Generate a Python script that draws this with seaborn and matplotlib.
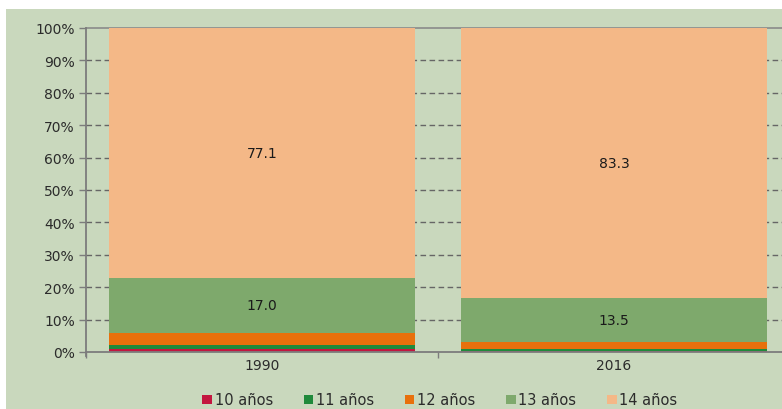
import matplotlib
matplotlib.use("Agg")
import matplotlib.pyplot as plt
from matplotlib.patches import Rectangle, Patch
import seaborn as sns
import pandas as pd
import numpy as np

# Percentage of mothers by age at first birth, 1990 vs 2016
years = ["1990", "2016"]
age_groups = ["10 años", "11 años", "12 años", "13 años", "14 años"]
share_1990 = [1.0, 1.1, 3.8, 17.0, 77.1]
share_2016 = [0.4, 0.6, 2.2, 13.5, 83.3]
colors = ["#c3163f", "#1f8a3b", "#e8700c", "#7ea96c", "#f4b887"]
labelled = {"13 años", "14 años"}
yticks = list(range(0, 101, 10))

sns.set_theme(style="white")
plt.rcParams["font.family"] = ["DejaVu Sans"]

df = pd.DataFrame({"year": np.repeat(years, len(age_groups)),
                   "group": age_groups * len(years),
                   "share": share_1990 + share_2016})
df["top"] = df.groupby("year")["share"].cumsum()
df["bottom"] = df["top"] - df["share"]

fig = plt.figure(figsize=(7.82, 4.10), dpi=100)
fig.patch.set_facecolor("white")
fig.patches.append(Rectangle((6 / 782, 0), 1, 400 / 410, transform=fig.transFigure,
                             facecolor="#c9d8bd", edgecolor="none", zorder=-10))

ax = fig.add_axes([86 / 782, 57 / 410, 704 / 782, 324 / 410])
ax.set_zorder(1)
ax.set_facecolor("none")

# dashed reference lines behind the bars
for t in yticks[1:-1]:
    ax.axhline(t, color="#666666", lw=1.0, ls=(0, (4, 2.5)), zorder=0)
ax.axhline(100, color="#8a8a8a", lw=1.2, zorder=0, clip_on=False)

# stacked bars drawn as overlapping cumulative totals, tallest first
for g, c in reversed(list(zip(age_groups, colors))):
    sub = df[df["group"] == g]
    sns.barplot(data=sub, x="year", y="top", order=years, color=c, width=0.868,
                saturation=1, ax=ax, zorder=2, edgecolor="none", linewidth=0)

for _, r in df.iterrows():
    if r["group"] in labelled:
        ax.text(years.index(r["year"]), (r["bottom"] + r["top"]) / 2, f"{r['share']:.1f}",
                ha="center", va="center", fontsize=10, color="#1a1a1a", zorder=3)

ax.set_xlim(-0.5, 1.5)
ax.set_ylim(0, 100)
ax.set_yticks(yticks)
ax.set_yticklabels([f"{t}%" for t in yticks])
ax.set_xlabel("")
ax.set_ylabel("")
ax.set_xticks([-0.5, 0.5, 1.5], minor=True)
for s in ["top", "right"]:
    ax.spines[s].set_visible(False)
for s in ["left", "bottom"]:
    ax.spines[s].set_color("#7c7c7c")
    ax.spines[s].set_linewidth(1.3)
    ax.spines[s].set_zorder(4)
ax.spines["left"].set_bounds(-1.2, 100)
ax.tick_params(axis="y", which="major", length=5, width=1, color="#7c7c7c",
               labelsize=10, labelcolor="#2b2b2b", pad=3, left=True)
ax.tick_params(axis="x", which="major", length=0, labelsize=10, labelcolor="#2b2b2b", pad=4)
ax.tick_params(axis="x", which="minor", length=4, width=1, color="#7c7c7c", bottom=True)

handles = [Patch(facecolor=c, edgecolor="none", label=g) for g, c in zip(age_groups, colors)]
fig.legend(handles=handles, loc="center", bbox_to_anchor=(440 / 782, 9 / 410), ncol=5,
           frameon=False, fontsize=10.5, handlelength=0.65, handleheight=0.65,
           handletextpad=0.2, columnspacing=2.1, labelcolor="#2b2b2b",
           borderaxespad=0, borderpad=0)

fig.savefig("out.png", dpi=100, facecolor=fig.get_facecolor())
